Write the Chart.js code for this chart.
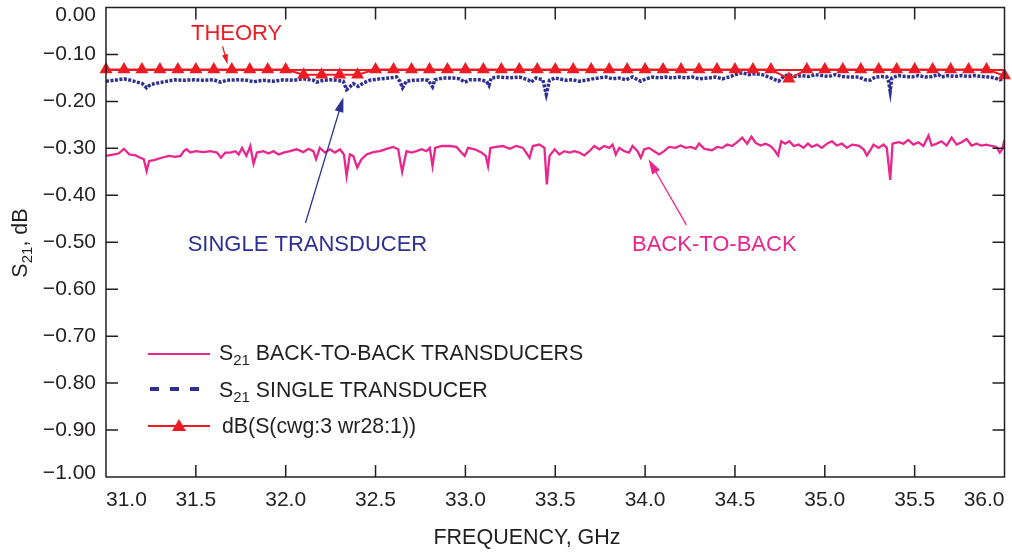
<!DOCTYPE html>
<html>
<head>
<meta charset="utf-8">
<script src="https://cdn.jsdelivr.net/npm/chart.js@4.4.0/dist/chart.umd.min.js"></script>
<style>
  html, body { margin: 0; padding: 0; background: #fff; }
  #wrap { width: 1012px; height: 552px; }
</style>
</head>
<body>
<div id="wrap"><canvas id="myChart" width="1012" height="552"></canvas></div>
<script>
// S21 back-to-back transducers (GHz, dB)
const b2bFreq = [
  31.000, 31.045, 31.070, 31.100, 31.130, 31.165, 31.190, 31.210, 31.226, 31.240,
  31.267, 31.310, 31.350, 31.387, 31.415, 31.433, 31.448, 31.470, 31.498, 31.544,
  31.581, 31.618, 31.640, 31.664, 31.692, 31.720, 31.738, 31.757, 31.781, 31.803,
  31.821, 31.840, 31.876, 31.904, 31.932, 31.960, 31.988, 32.024, 32.061, 32.098,
  32.126, 32.154, 32.169, 32.190, 32.219, 32.246, 32.274, 32.302, 32.324, 32.339,
  32.357, 32.376, 32.398, 32.422, 32.450, 32.487, 32.524, 32.561, 32.598, 32.626,
  32.648, 32.672, 32.700, 32.728, 32.756, 32.783, 32.802, 32.817, 32.832, 32.867,
  32.913, 32.950, 32.978, 32.996, 33.015, 33.052, 33.089, 33.113, 33.126, 33.139,
  33.172, 33.209, 33.246, 33.283, 33.320, 33.357, 33.375, 33.412, 33.440, 33.453,
  33.468, 33.497, 33.523, 33.550, 33.579, 33.606, 33.634, 33.662, 33.690, 33.717,
  33.745, 33.773, 33.800, 33.819, 33.837, 33.856, 33.884, 33.911, 33.930, 33.958,
  33.976, 33.995, 34.022, 34.050, 34.078, 34.106, 34.133, 34.170, 34.198, 34.226,
  34.254, 34.281, 34.300, 34.330, 34.373, 34.400, 34.429, 34.457, 34.485, 34.512,
  34.540, 34.568, 34.592, 34.614, 34.642, 34.670, 34.697, 34.716, 34.740, 34.758,
  34.780, 34.803, 34.827, 34.854, 34.882, 34.906, 34.928, 34.956, 34.984, 35.012,
  35.040, 35.067, 35.095, 35.123, 35.151, 35.188, 35.216, 35.234, 35.253, 35.271,
  35.299, 35.327, 35.345, 35.364, 35.377, 35.410, 35.438, 35.465, 35.493, 35.521,
  35.549, 35.577, 35.595, 35.623, 35.650, 35.678, 35.706, 35.734, 35.761, 35.789,
  35.817, 35.845, 35.872, 35.900, 35.928, 35.956, 35.974, 35.987, 36.000
];
const b2bValues = [
  -0.316, -0.313, -0.311, -0.301, -0.313, -0.315, -0.320, -0.323, -0.348, -0.327,
  -0.325, -0.320, -0.316, -0.318, -0.316, -0.306, -0.302, -0.309, -0.306, -0.308,
  -0.306, -0.309, -0.320, -0.309, -0.309, -0.306, -0.313, -0.299, -0.316, -0.295,
  -0.333, -0.309, -0.306, -0.311, -0.306, -0.313, -0.309, -0.306, -0.302, -0.308,
  -0.301, -0.306, -0.323, -0.299, -0.309, -0.302, -0.309, -0.302, -0.313, -0.359,
  -0.313, -0.316, -0.341, -0.323, -0.313, -0.308, -0.306, -0.301, -0.297, -0.302,
  -0.350, -0.306, -0.309, -0.306, -0.302, -0.306, -0.299, -0.338, -0.299, -0.295,
  -0.295, -0.297, -0.309, -0.316, -0.299, -0.302, -0.309, -0.316, -0.338, -0.299,
  -0.297, -0.295, -0.301, -0.295, -0.299, -0.320, -0.295, -0.292, -0.299, -0.377,
  -0.316, -0.302, -0.313, -0.306, -0.309, -0.306, -0.309, -0.315, -0.306, -0.295,
  -0.302, -0.295, -0.299, -0.292, -0.313, -0.299, -0.306, -0.309, -0.295, -0.306,
  -0.320, -0.302, -0.299, -0.306, -0.313, -0.306, -0.297, -0.299, -0.294, -0.299,
  -0.297, -0.301, -0.290, -0.301, -0.304, -0.297, -0.299, -0.292, -0.295, -0.287,
  -0.277, -0.290, -0.275, -0.288, -0.294, -0.290, -0.295, -0.302, -0.315, -0.285,
  -0.290, -0.285, -0.295, -0.292, -0.299, -0.290, -0.297, -0.292, -0.299, -0.290,
  -0.285, -0.294, -0.290, -0.299, -0.292, -0.294, -0.302, -0.315, -0.304, -0.292,
  -0.299, -0.292, -0.299, -0.367, -0.290, -0.287, -0.290, -0.282, -0.292, -0.287,
  -0.295, -0.273, -0.294, -0.290, -0.285, -0.294, -0.277, -0.292, -0.287, -0.280,
  -0.294, -0.290, -0.294, -0.292, -0.295, -0.297, -0.309, -0.302, -0.282
];

// S21 single transducer
const singleFreq = [
  31.000, 31.045, 31.100, 31.137, 31.174, 31.202, 31.226, 31.248, 31.285, 31.340,
  31.387, 31.433, 31.488, 31.544, 31.600, 31.636, 31.673, 31.729, 31.784, 31.821,
  31.876, 31.932, 31.988, 32.043, 32.098, 32.154, 32.172, 32.210, 32.246, 32.283,
  32.320, 32.339, 32.357, 32.376, 32.404, 32.431, 32.468, 32.524, 32.580, 32.617,
  32.635, 32.650, 32.672, 32.710, 32.765, 32.793, 32.817, 32.830, 32.876, 32.932,
  32.969, 32.996, 33.024, 33.080, 33.117, 33.131, 33.144, 33.190, 33.246, 33.300,
  33.348, 33.366, 33.394, 33.431, 33.450, 33.468, 33.497, 33.523, 33.560, 33.597,
  33.634, 33.671, 33.708, 33.745, 33.782, 33.819, 33.856, 33.893, 33.930, 33.976,
  34.004, 34.041, 34.078, 34.115, 34.152, 34.189, 34.226, 34.263, 34.300, 34.355,
  34.392, 34.429, 34.466, 34.503, 34.540, 34.577, 34.614, 34.651, 34.688, 34.725,
  34.743, 34.771, 34.799, 34.836, 34.873, 34.910, 34.947, 34.984, 35.021, 35.058,
  35.095, 35.132, 35.188, 35.225, 35.253, 35.280, 35.317, 35.345, 35.355, 35.364,
  35.373, 35.410, 35.447, 35.484, 35.521, 35.558, 35.595, 35.632, 35.650, 35.687,
  35.724, 35.761, 35.798, 35.835, 35.872, 35.910, 35.946, 35.974, 36.000
];
const singleValues = [
  -0.157, -0.155, -0.152, -0.155, -0.159, -0.162, -0.171, -0.164, -0.161, -0.157,
  -0.154, -0.155, -0.154, -0.155, -0.154, -0.159, -0.155, -0.154, -0.155, -0.158,
  -0.155, -0.157, -0.154, -0.155, -0.152, -0.155, -0.159, -0.155, -0.154, -0.155,
  -0.157, -0.175, -0.169, -0.162, -0.168, -0.161, -0.155, -0.152, -0.150, -0.148,
  -0.157, -0.171, -0.157, -0.155, -0.154, -0.155, -0.169, -0.154, -0.150, -0.150,
  -0.152, -0.159, -0.154, -0.154, -0.157, -0.166, -0.150, -0.148, -0.150, -0.148,
  -0.154, -0.159, -0.150, -0.154, -0.185, -0.155, -0.150, -0.152, -0.155, -0.154,
  -0.157, -0.155, -0.152, -0.150, -0.148, -0.152, -0.150, -0.154, -0.148, -0.157,
  -0.152, -0.148, -0.150, -0.148, -0.150, -0.148, -0.150, -0.148, -0.152, -0.150,
  -0.148, -0.152, -0.148, -0.143, -0.139, -0.143, -0.141, -0.143, -0.148, -0.154,
  -0.157, -0.147, -0.143, -0.147, -0.145, -0.147, -0.143, -0.145, -0.147, -0.143,
  -0.147, -0.148, -0.148, -0.154, -0.155, -0.148, -0.147, -0.148, -0.157, -0.178,
  -0.150, -0.145, -0.147, -0.148, -0.145, -0.148, -0.147, -0.143, -0.148, -0.145,
  -0.147, -0.145, -0.147, -0.145, -0.147, -0.148, -0.150, -0.154, -0.150
];

// theory, dB(S(cwg:3 wr28:1))
const theoryFreq = [
  31.0, 31.1, 31.2, 31.3, 31.4, 31.5, 31.6, 31.7, 31.8, 31.9,
  32.0, 32.1, 32.2, 32.3, 32.4, 32.5, 32.6, 32.7, 32.8, 32.9,
  33.0, 33.1, 33.2, 33.3, 33.4, 33.5, 33.6, 33.7, 33.8, 33.9,
  34.0, 34.1, 34.2, 34.3, 34.4, 34.5, 34.6, 34.7, 34.8, 34.9,
  35.0, 35.1, 35.2, 35.3, 35.4, 35.5, 35.6, 35.7, 35.8, 35.9,
  36.0
];
const theoryValues = [
  -0.132, -0.132, -0.132, -0.132, -0.132, -0.132, -0.132, -0.132, -0.132, -0.132,
  -0.132, -0.143, -0.143, -0.143, -0.143, -0.132, -0.132, -0.132, -0.132, -0.132,
  -0.132, -0.132, -0.132, -0.132, -0.132, -0.132, -0.132, -0.132, -0.132, -0.132,
  -0.132, -0.132, -0.132, -0.132, -0.132, -0.132, -0.132, -0.132, -0.152, -0.132,
  -0.132, -0.132, -0.132, -0.132, -0.132, -0.132, -0.132, -0.132, -0.132, -0.132,
  -0.145
];
const theoryLineFreq = [31.0, 36.0];
const theoryLineValues = [-0.133, -0.133];

const yTickLabels = ['0.00', '\u22120.10', '\u22120.20', '\u22120.30', '\u22120.40', '\u22120.50',
  '\u22120.60', '\u22120.70', '\u22120.80', '\u22120.90', '\u22121.00'];

const RED = '#ed1c24';
const NAVY = '#2e3192';
const MAGENTA = '#e9258e';
const INK = '#231f20';
const FONT = "'Liberation Sans', Arial, sans-serif";

function pairs(xs, ys) {
  return xs.map((x, i) => ({ x: x, y: ys[i] }));
}

// text with a subscript part, e.g. S + 21
function drawSubText(ctx, x, y, parts, size) {
  let cx = x;
  parts.forEach(p => {
    ctx.font = (p.sub ? Math.round(size * 0.72) : size) + 'px ' + FONT;
    ctx.fillText(p.t, cx, y + (p.sub ? size * 0.3 : 0));
    cx += ctx.measureText(p.t).width;
  });
}
function subTextWidth(ctx, parts, size) {
  let w = 0;
  parts.forEach(p => {
    ctx.font = (p.sub ? Math.round(size * 0.72) : size) + 'px ' + FONT;
    w += ctx.measureText(p.t).width;
  });
  return w;
}

function arrow(ctx, x1, y1, x2, y2, color, head) {
  const ang = Math.atan2(y2 - y1, x2 - x1);
  ctx.strokeStyle = color;
  ctx.fillStyle = color;
  ctx.lineWidth = 1.3;
  ctx.beginPath();
  ctx.moveTo(x1, y1);
  ctx.lineTo(x2 - Math.cos(ang) * head * 0.8, y2 - Math.sin(ang) * head * 0.8);
  ctx.stroke();
  ctx.beginPath();
  ctx.moveTo(x2, y2);
  ctx.lineTo(x2 - Math.cos(ang) * head + Math.sin(ang) * head * 0.3,
             y2 - Math.sin(ang) * head - Math.cos(ang) * head * 0.3);
  ctx.lineTo(x2 - Math.cos(ang) * head - Math.sin(ang) * head * 0.3,
             y2 - Math.sin(ang) * head + Math.cos(ang) * head * 0.3);
  ctx.closePath();
  ctx.fill();
}

const decorations = {
  id: 'decorations',
  afterDraw(chart) {
    const ctx = chart.ctx;
    const a = chart.chartArea;
    const xs = chart.scales.x, ys = chart.scales.y;
    const px = v => xs.getPixelForValue(v);
    const py = v => ys.getPixelForValue(v);
    ctx.save();

    // frame and inward ticks
    ctx.strokeStyle = INK;
    ctx.lineWidth = 1.5;
    ctx.strokeRect(a.left, a.top, a.right - a.left, a.bottom - a.top);
    ctx.beginPath();
    xs.ticks.forEach(t => {
      const x = px(t.value);
      if (x < a.left + 2 || x > a.right - 2) return;
      ctx.moveTo(x, a.bottom); ctx.lineTo(x, a.bottom - 12);
      ctx.moveTo(x, a.top); ctx.lineTo(x, a.top + 12);
    });
    ys.ticks.forEach(t => {
      const y = py(t.value);
      if (y < a.top + 2 || y > a.bottom - 2) return;
      ctx.moveTo(a.left, y); ctx.lineTo(a.left + 12, y);
      ctx.moveTo(a.right, y); ctx.lineTo(a.right - 12, y);
    });
    ctx.stroke();

    // y tick labels
    ctx.fillStyle = INK;
    ctx.font = '21px ' + FONT;
    ctx.textAlign = 'right';
    ctx.textBaseline = 'middle';
    ys.ticks.forEach(t => {
      const idx = Math.round(-t.value * 10);
      let y = py(t.value);
      if (idx === 0) y += 8;
      if (idx === 10) y -= 4;
      ctx.fillText(yTickLabels[idx], a.left - 10, y);
    });

    // axis titles
    ctx.textAlign = 'center';
    ctx.font = '21.5px ' + FONT;
    ctx.fillText('FREQUENCY, GHz', 527, 538);
    const yTitle = [{ t: 'S' }, { t: '21', sub: true }, { t: ', dB' }];
    ctx.save();
    ctx.translate(21, 243);
    ctx.rotate(-Math.PI / 2);
    ctx.textAlign = 'left';
    drawSubText(ctx, -subTextWidth(ctx, yTitle, 21.5) / 2, 0, yTitle, 21.5);
    ctx.restore();

    // annotations
    ctx.textAlign = 'center';
    ctx.font = '22px ' + FONT;
    ctx.fillStyle = RED;
    ctx.fillText('THEORY', px(31.727), py(-0.057));
    arrow(ctx, px(31.649), py(-0.083), px(31.677), py(-0.121), RED, 10);
    ctx.fillStyle = NAVY;
    ctx.font = '22px ' + FONT;
    ctx.fillText('SINGLE TRANSDUCER', px(32.121), py(-0.505));
    arrow(ctx, px(32.110), py(-0.459), px(32.321), py(-0.191), NAVY, 15);
    ctx.fillStyle = MAGENTA;
    ctx.font = '22px ' + FONT;
    ctx.fillText('BACK-TO-BACK', px(34.385), py(-0.505));
    arrow(ctx, px(34.230), py(-0.463), px(34.019), py(-0.323), MAGENTA, 15);

    // legend
    ctx.textAlign = 'left';
    ctx.fillStyle = INK;
    ctx.lineWidth = 2;
    ctx.strokeStyle = MAGENTA;
    ctx.beginPath(); ctx.moveTo(148, 354); ctx.lineTo(210, 354); ctx.stroke();
    drawSubText(ctx, 219, 354, [{ t: 'S' }, { t: '21', sub: true }, { t: ' BACK-TO-BACK TRANSDUCERS' }], 21.3);

    ctx.strokeStyle = NAVY;
    ctx.lineWidth = 4;
    ctx.setLineDash([9, 11]);
    ctx.beginPath(); ctx.moveTo(150, 389); ctx.lineTo(210, 389); ctx.stroke();
    ctx.setLineDash([]);
    ctx.fillStyle = INK;
    drawSubText(ctx, 219, 391, [{ t: 'S' }, { t: '21', sub: true }, { t: ' SINGLE TRANSDUCER' }], 21.3);

    ctx.strokeStyle = RED;
    ctx.lineWidth = 2;
    ctx.beginPath(); ctx.moveTo(148, 426); ctx.lineTo(210, 426); ctx.stroke();
    ctx.fillStyle = RED;
    ctx.beginPath();
    ctx.moveTo(179, 419); ctx.lineTo(186, 431); ctx.lineTo(172, 431); ctx.closePath();
    ctx.fill();
    ctx.fillStyle = INK;
    ctx.font = '21.3px ' + FONT;
    ctx.fillText('dB(S(cwg:3 wr28:1))', 222, 427);

    ctx.restore();
  }
};

const ctx = document.getElementById('myChart');
new Chart(ctx, {
  type: 'line',
  data: {
    datasets: [
      {
        label: 'dB(S(cwg:3 wr28:1))',
        data: pairs(theoryFreq, theoryValues),
        borderColor: RED,
        backgroundColor: RED,
        borderWidth: 2,
        pointStyle: 'triangle',
        pointRadius: 7.5,
        pointBorderWidth: 0,
        clip: false
      },
      {
        label: 'theory line',
        data: pairs(theoryLineFreq, theoryLineValues),
        borderColor: RED,
        borderWidth: 2,
        pointRadius: 0
      },
      {
        label: 'S21 SINGLE TRANSDUCER',
        data: pairs(singleFreq, singleValues),
        borderColor: NAVY,
        borderWidth: 3.5,
        borderDash: [3, 1.5],
        pointRadius: 0
      },
      {
        label: 'S21 BACK-TO-BACK TRANSDUCERS',
        data: pairs(b2bFreq, b2bValues),
        borderColor: MAGENTA,
        borderWidth: 2.3,
        pointRadius: 0
      }
    ]
  },
  options: {
    responsive: false,
    devicePixelRatio: 1,
    animation: false,
    layout: { padding: { top: 6, right: 5, left: 0, bottom: 0 } },
    elements: { line: { tension: 0 } },
    plugins: { legend: { display: false }, tooltip: { enabled: false } },
    scales: {
      x: {
        type: 'linear',
        min: 31,
        max: 36,
        grid: { display: false, drawTicks: false },
        border: { display: false },
        ticks: {
          stepSize: 0.5,
          align: 'inner',
          padding: 11,
          color: INK,
          font: { family: FONT, size: 21 },
          maxRotation: 0,
          callback: v => v.toFixed(1)
        },
        afterFit: s => { s.height = 75; s.paddingLeft = 0; s.paddingRight = 0; }
      },
      y: {
        type: 'linear',
        min: -1,
        max: 0,
        grid: { display: false, drawTicks: false },
        border: { display: false },
        ticks: { stepSize: 0.1, display: false },
        afterFit: s => { s.width = 106; s.paddingTop = 0; s.paddingBottom = 0; }
      }
    }
  },
  plugins: [decorations]
});
</script>
</body>
</html>
